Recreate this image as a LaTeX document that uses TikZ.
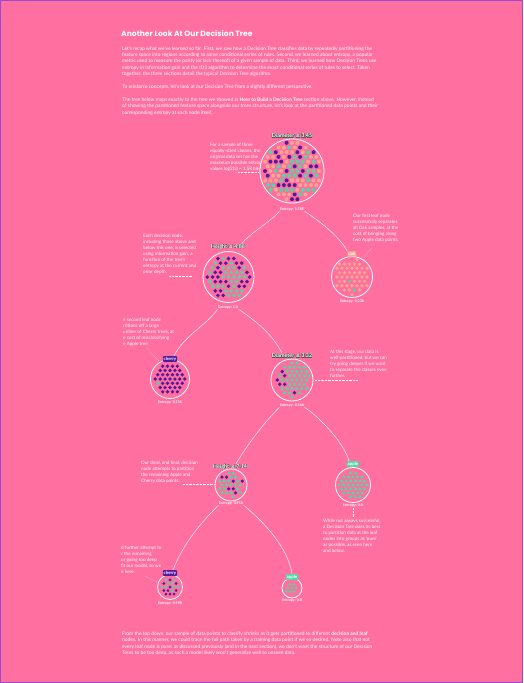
\documentclass[tikz,border=0pt]{standalone}
\usepackage{fontspec}
\setmainfont{Lato}
\newfontfamily\titlef{Poppins}
\newfontfamily\symf{DejaVu Sans}
\usepackage{contour}
\contourlength{0.25pt}
\contournumber{16}
\definecolor{bg}{HTML}{FF6FA0}
\definecolor{cpurple}{HTML}{55199E}
\definecolor{cgreen}{HTML}{52D6A2}
\definecolor{cpeach}{HTML}{FFA78E}
\definecolor{halo}{HTML}{555555}
\definecolor{framec}{HTML}{9A4BD6}
\newcommand\myle{{\symf\bfseries ≤}}
\newcommand\dlab[1]{\contour{halo}{\textcolor{white}{#1}}}
% cx cy rin seed ppurple pgreen spacing dotradius
\newcommand\blob[8]{%
  \pgfmathsetseed{#4}%
  \foreach \j in {-7,...,7}{%
    \foreach \i in {-8,...,8}{%
      \pgfmathsetmacro\xx{(\i+0.5*mod(abs(\j),2))*#7}%
      \pgfmathsetmacro\yy{\j*#7*0.87}%
      \pgfmathsetmacro\dd{veclen(\xx,\yy)+2*rnd}%
      \pgfmathsetmacro\rr{rnd}%
      \ifdim\dd pt<#3pt\relax
        \ifdim\rr pt<#5pt\relax\def\cc{cpurple}\else\ifdim\rr pt<#6pt\relax\def\cc{cgreen}\else\def\cc{cpeach}\fi\fi
        \fill[\cc] ({#1+\xx},{#2+\yy}) circle[radius=#8pt];
      \fi
    }}}
\begin{document}
\begin{tikzpicture}[x=1pt,y=-1pt,
  para/.style={anchor=north west, align=left, inner sep=0, text=white, font=\fontsize{4.9}{6.3}\selectfont},
  ann/.style={anchor=north west, align=left, inner sep=0, text=white, font=\fontsize{4.6}{6}\selectfont},
  leader/.style={white, line width=0.35pt, dash pattern=on 0.4pt off 1pt},
  conn/.style={white, line width=0.45pt},
  ncirc/.style={circle, draw=white, line width=0.8pt, fill=bg, inner sep=0},
  dlabel/.style={inner sep=0.5pt, font=\fontsize{5.4}{6}\selectfont\bfseries},
  leaf/.style={inner sep=0.9pt, rounded corners=1pt, font=\fontsize{4.4}{5}\selectfont\bfseries, text=white},
  ent/.style={inner sep=0.5pt, text=white, font=\fontsize{3.6}{4}\selectfont\bfseries}]
\useasboundingbox (0,0) rectangle (523,683);
\fill[bg] (0,0) rectangle (523,683);
\draw[framec, line width=1pt] (0.5,0.5) rectangle (522.5,682.5);

% ---------- text ----------
\node[anchor=west, inner sep=0, text=white, font=\titlef\fontsize{7.6}{9}\selectfont\bfseries] (title) at (121,33) {Another Look At Our Decision Tree};
\node[para] (p1) at (122,46.2) {Let's recap what we've learned so far. First, we saw how a Decision Tree classifies data by repeatedly partitioning the\\
feature space into regions according to some conditional series of rules. Second, we learned about entropy, a popular\\
metric used to measure the purity (or lack thereof) of a given sample of data. Third, we learned how Decision Trees use\\
entropy in information gain and the ID3 algorithm to determine the exact conditional series of rules to select. Taken\\
together, the three sections detail the typical Decision Tree algorithm.};
\node[para] (p2) at (122,84.7) {To reinforce concepts, let's look at our Decision Tree from a slightly different perspective.};
\node[para] (p3) at (122,97.7) {The tree below maps exactly to the tree we showed in \textbf{How to Build a Decision Tree} section above. However, instead\\
of showing the partitioned feature space alongside our trees structure, let's look at the partitioned data points and their\\
corresponding entropy at each node itself.};
\node[para] (p4) at (122,631.7) {From the top down, our sample of data points to classify shrinks as it gets partitioned to different \textbf{decision and leaf}\\
nodes. In this manner, we could trace the full path taken by a training data point if we so desired. Note also that not\\
every leaf node is pure: as discussed previously (and in the next section), we don't want the structure of our Decision\\
Trees to be too deep, as such a model likely won't generalize well to unseen data.};

% ---------- annotations ----------
\node[ann] (a0) at (210,142.8) {For a sample of three\\equally-sized classes, the\\original data set has the\\maximum possible entropy\\values log2(3) = 1.58 bits.};
\node[ann] (a1) at (143,233.8) {Each decision node,\\including those above and\\below this one, is selected\\using information gain, a\\function of the tree's\\entropy at the current and\\prior depth.};
\node[ann] (ao) at (353,213.8) {Our first leaf node\\successfully separates\\all Oak samples, at the\\cost of bringing along\\two Apple data points.};
\node[ann] (ac1) at (123,317.8) {e second leaf node\\rtitions off a large\\umber of Cherry trees, at\\e cost of misclassifying\\e Apple tree.};
\node[ann] (a2) at (330,349.8) {At this stage, our data is\\well-partitioned, but we can\\try going deeper if we want\\to separate the classes even\\further.};
\node[ann] (a3) at (141,460.8) {Our third, and final, decision\\node attempts to partition\\the remaining Apple and\\Cherry data points.};
\node[ann] (aa1) at (323,518.8) {While not always successful,\\a Decision Tree does its best\\to partition data at the leaf\\nodes into groups as `pure'\\as possible, as seen here\\and below.};
\node[ann] (ac2) at (121,545.8) {d further attempt to\\r the remaining\\ur going too deep\\fit our model, so we\\e here.};

% ---------- leaders ----------
\draw[leader] (238,172.5) -- (258,172.5);
\draw[leader] (169,276) -- (192,276);
\draw[leader] (372,247) -- (364,258);
\draw[leader] (147,348) -- (159,361);
\draw[leader] (315,380) -- (358,380);
\draw[leader] (183,484) -- (213,484);
\draw[leader] (353,508) -- (353,517);
\draw[leader] (145,576) -- (157,582);

% ---------- circles ----------
\node[ncirc, minimum size=64pt] (c0) at (292,171) {};
\node[ncirc, minimum size=51pt] (c1) at (228.5,277) {};
\node[ncirc, minimum size=41pt] (co) at (352,277) {};
\node[ncirc, minimum size=39pt] (cc1) at (170,379) {};
\node[ncirc, minimum size=42pt] (c2) at (292,380) {};
\node[ncirc, minimum size=32pt] (c3) at (231,485) {};
\node[ncirc, minimum size=35pt] (ca1) at (353,485) {};
\node[ncirc, minimum size=25pt] (cc2) at (170,587) {};
\node[ncirc, minimum size=20pt] (ca2) at (292,588) {};

% ---------- dots ----------
\blob{292}{171}{30.5}{3}{0.33}{0.62}{5.4}{2.0}
\blob{228.5}{277}{23}{7}{0.56}{1.01}{5.3}{1.95}
\blob{352}{277}{18.5}{11}{0.0}{0.04}{5.0}{1.85}
\blob{170}{379}{17}{5}{0.96}{1.01}{4.9}{1.85}
\blob{292}{380}{18.5}{13}{0.13}{1.01}{4.9}{1.85}
\blob{231}{485}{13.5}{17}{0.32}{1.01}{4.5}{1.7}
\blob{353}{485}{15}{19}{0.0}{1.01}{4.6}{1.75}
\blob{170}{587}{10}{23}{0.5}{1.01}{4.1}{1.5}
\blob{292}{588}{7.5}{29}{0.0}{1.01}{4.1}{1.5}

% ---------- labels ----------
\node[dlabel] (l0) at (292,136) {\dlab{Diameter \myle\ 3.45}};
\node[ent] (e0) at (292,209) {Entropy: 1.585};
\node[dlabel] (l1) at (228,247) {\dlab{Height \myle\ 4.88}};
\node[ent] (e1) at (228,307) {Entropy: 1.0};
\node[leaf, fill=cpeach] (lo) at (352,254) {oak};
\node[ent] (eo) at (352,301) {Entropy: 0.236};
\node[leaf, fill=cpurple] (lc1) at (170,359) {cherry};
\node[ent] (ec1) at (170,402) {Entropy: 0.156};
\node[dlabel] (l2) at (292,356) {\dlab{Diameter \myle\ 3.32}};
\node[ent] (e2) at (292,405) {Entropy: 0.566};
\node[dlabel] (l3) at (230,467) {\dlab{Height \myle\ 7.14}};
\node[ent] (e3) at (231,503) {Entropy: 0.918};
\node[leaf, fill=cgreen] (la1) at (353,464) {apple};
\node[ent] (ea1) at (353,505) {Entropy: 0.0};
\node[leaf, fill=cpurple] (lc2) at (170,573) {cherry};
\node[ent] (ec2) at (170,603) {Entropy: 0.998};
\node[leaf, fill=cgreen] (la2) at (292,577) {apple};
\node[ent] (ea2) at (292,600) {Entropy: 0.0};

% ---------- connectors ----------
\draw[conn] (e0.south west) .. controls +(-8,10) and +(10,-12) .. ([xshift=-4pt]l1.north east);
\draw[conn] (e0.south east) .. controls +(15,10) and +(-8,-15) .. (lo.north west);
\draw[conn] (e1.south west) .. controls +(-10,15) and +(10,-20) .. ([xshift=4pt]lc1.north);
\draw[conn] (e1.south east) .. controls +(15,10) and +(-10,-20) .. ([xshift=-10pt]l2.north);
\draw[conn] (e2.south west) .. controls +(-15,15) and +(12,-20) .. ([xshift=6pt]l3.north);
\draw[conn] (e2.south east) .. controls +(15,10) and +(-5,-18) .. ([xshift=-4pt]la1.north);
\draw[conn] (e3.south west) .. controls +(-25,25) and +(8,-20) .. ([xshift=3pt]lc2.north);
\draw[conn] (e3.south east) .. controls +(30,25) and +(-3,-20) .. (la2.north);
\end{tikzpicture}
\end{document}
